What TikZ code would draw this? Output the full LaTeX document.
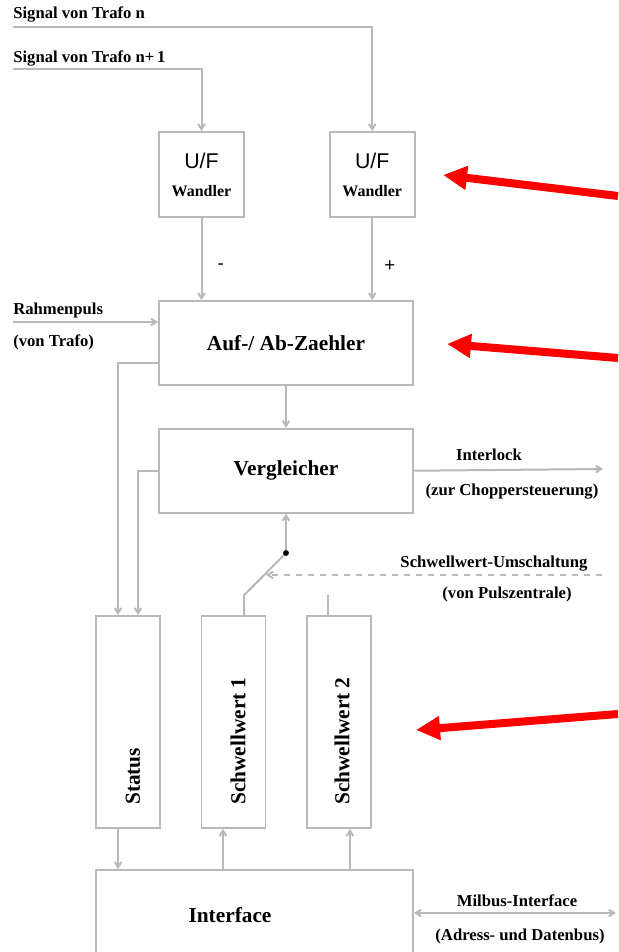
\documentclass[tikz,border=0pt]{standalone}
\usepackage{fontspec}
\setmainfont{Liberation Serif}
\setsansfont{Liberation Sans}
\usetikzlibrary{positioning}
\usetikzlibrary{arrows.meta}

\begin{document}
\begin{tikzpicture}[x=0.75pt, y=-0.75pt, node distance={63pt},
    box/.style = {draw=gray!55, line width=1.3pt, inner sep=0pt},
    wire/.style = {draw=gray!55, line width=1.5pt},
    arr/.style = {wire, -{Straight Barb[length=4pt,width=5pt]}},
    lbl/.style = {font=\bfseries\fontsize{12.5}{14}\selectfont, inner sep=0pt, anchor=base},
    big/.style = {font=\bfseries\fontsize{16}{18}\selectfont, inner sep=0pt},
    sgn/.style = {font=\sffamily\fontsize{14}{16}\selectfont},
    uftext/.style = {align=center, font=\sffamily\fontsize{16}{18}\selectfont},
    hint/.style = {red, line width=6pt, -{Triangle[length=18pt,width=17pt]}}]
    \useasboundingbox (0,0) rectangle (618,952);
    % U/F-Wandler und Zaehler
    \node[box, uftext, minimum size=63.75pt] (ufn1) at (201.5,174.5) {U/F\\[3pt]{\rmfamily\bfseries\fontsize{12}{13}\selectfont Wandler}};
    \node[box, uftext, minimum size=63.75pt] (ufn) [right=of ufn1] {U/F\\[3pt]{\rmfamily\bfseries\fontsize{12}{13}\selectfont Wandler}};
    \node[box, big, minimum width=190.5pt, minimum height=63pt] (auf) at (286,343) {Auf-/ Ab-Zaehler};
    \node[box, big, minimum width=190.5pt, minimum height=63pt] (verg) [below=31.5pt of auf] {Vergleicher};
    % Register und Interface
    \node[box, minimum width=48pt, minimum height=159pt] (stat) at (128,722) {};
    \node[box, minimum width=48pt, minimum height=159pt] (sw1) at (233.5,722) {};
    \node[box, minimum width=48pt, minimum height=159pt] (sw2) at (339,722) {};
    \node[big, rotate=90, anchor=west] (tstat) at (133,805) {Status};
    \node[big, rotate=90, anchor=west] (tsw1) at (238,805) {Schwellwert 1};
    \node[big, rotate=90, anchor=west] (tsw2) at (342,805) {Schwellwert 2};
    \node[box, minimum width=237.75pt, minimum height=64.5pt] (intf) at (254.5,913) {};
    \node[big, anchor=base] (tintf) at (230,922) {Interface};
    % Eingaenge
    \coordinate (sign) at (13,27);
    \coordinate (signp) at (13,69);
    \coordinate (rpin) at (13,322);
    \node[lbl, anchor=base west] (lsign) at (13,19) {Signal von Trafo n};
    \node[lbl, anchor=base west] (lsignp) at (13,63) {Signal von Trafo n+\,1};
    \node[lbl, anchor=base west] (lrp) at (13,314) {Rahmenpuls};
    \node[lbl, anchor=base west] (lrpv) at (13,346) {(von Trafo)};
    \draw[arr] (sign) -| (ufn.north);
    \draw[arr] (signp) -| (ufn1.north);
    \draw[arr] (rpin) -- (rpin -| auf.west);
    \draw[arr] (ufn1.south) -- (ufn1.south |- auf.north) node[sgn, pos=0.59, right=8pt] {-};
    \draw[arr] (ufn.south) -- (ufn.south |- auf.north) node[sgn, pos=0.59, right=5pt] {+};
    \draw[arr] (auf.south) -- (verg.north);
    \draw[arr] ([yshift=-15pt]auf.west) -| ([xshift=-7.5pt]stat.north);
    \draw[arr] (verg.west) -| ([xshift=7.5pt]stat.north);
    % Interlock
    \coordinate (ilk) at (603,469);
    \draw[arr] (verg.east) -- (ilk);
    \node[lbl] (lilk) at (489,460) {Interlock};
    \node[lbl] (lilkv) at (512,495) {(zur Choppersteuerung)};
    % Schalter
    \coordinate (swp) at (286,553);
    \coordinate (swlow) at ([xshift=7.9pt,yshift=15pt]sw1.north);
    \coordinate (swin) at (602,575);
    \draw[arr] (swp) -- (verg.south);
    \draw[wire] (swp) -- (swlow) -- (swlow |- sw1.north);
    \fill (swp) circle (2.2pt);
    \draw[wire, dashed, dash pattern=on 4.5pt off 4.5pt, -{Straight Barb[length=4pt,width=5pt]}] (swin) -- (266,575);
    \draw[wire] ([xshift=-8.25pt]sw2.north) -- ([xshift=-8.25pt,yshift=15pt]sw2.north);
    \node[lbl] (lsu) at (494,567) {Schwellwert-Umschaltung};
    \node[lbl] (lsuv) at (507,598) {(von Pulszentrale)};
    % zum Interface
    \draw[arr] ([xshift=-7.5pt]stat.south) -- ([xshift=-7.5pt]stat.south |- intf.north);
    \draw[arr] ([xshift=-7.9pt]sw1.south |- intf.north) -- ([xshift=-7.9pt]sw1.south);
    \draw[arr] ([xshift=8.25pt]sw2.south |- intf.north) -- ([xshift=8.25pt]sw2.south);
    \coordinate (milbus) at (616,913);
    \draw[wire, {Straight Barb[length=4pt,width=5pt]}-{Straight Barb[length=4pt,width=5pt]}] (intf.east) -- (milbus);
    \node[lbl] (lmb) at (517,906) {Milbus-Interface};
    \node[lbl] (lmbv) at (520,940) {(Adress- und Datenbus)};
    % Hinweispfeile
    \draw[hint] (618,196) -- (443,175);
    \draw[hint] (618,358) -- (447,344);
    \draw[hint] (618,714) -- (416,730);
\end{tikzpicture}
\end{document}
